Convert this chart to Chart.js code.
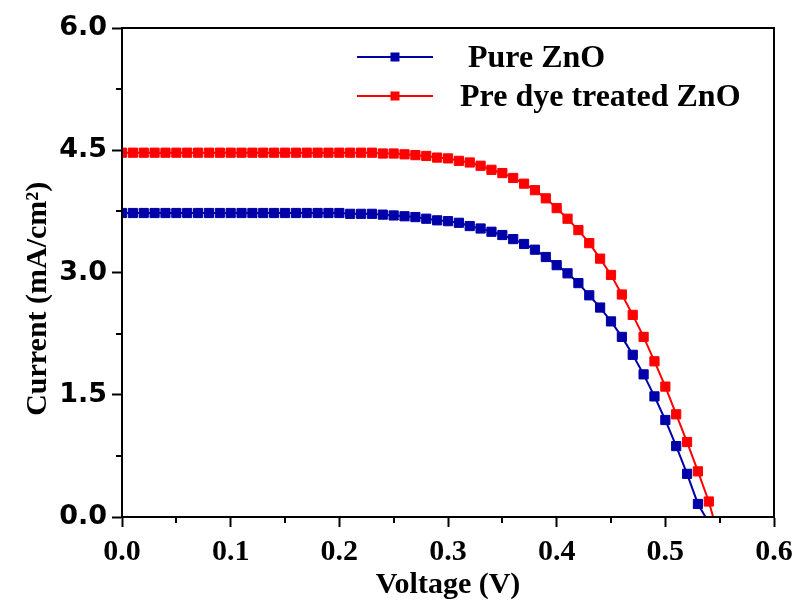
<!DOCTYPE html>
<html><head><meta charset="utf-8">
<script src="https://cdn.jsdelivr.net/npm/chart.js@4/dist/chart.umd.min.js"></script>
<style>html,body{margin:0;padding:0;background:#fff}#wrap{width:796px;height:600px}</style>
</head><body><div id="wrap"><canvas id="c" width="796" height="600"></canvas></div>
<script>
const seriesLabels = [" Pure ZnO", "Pre dye treated ZnO"];
const seriesColors = ["#0000A8", "#FF0000"];
const pureVoltage = [0.00,0.01,0.02,0.03,0.04,0.05,0.06,0.07,0.08,0.09,0.10,0.11,0.12,0.13,0.14,0.15,0.16,0.17,0.18,0.19,0.20,0.21,0.22,0.23,0.24,0.25,0.26,0.27,0.28,0.29,0.30,0.31,0.32,0.33,0.34,0.35,0.36,0.37,0.38,0.39,0.40,0.41,0.42,0.43,0.44,0.45,0.46,0.47,0.48,0.49,0.50,0.51,0.52,0.53,0.537];
const pureCurrent = [3.73,3.73,3.73,3.73,3.73,3.73,3.73,3.73,3.73,3.73,3.73,3.73,3.73,3.73,3.73,3.73,3.73,3.73,3.73,3.73,3.73,3.72,3.72,3.72,3.71,3.70,3.69,3.68,3.66,3.64,3.63,3.61,3.57,3.54,3.50,3.46,3.41,3.35,3.28,3.19,3.09,2.99,2.87,2.72,2.57,2.40,2.21,1.99,1.75,1.48,1.19,0.87,0.53,0.16,0];
const dyeVoltage = [0.00,0.01,0.02,0.03,0.04,0.05,0.06,0.07,0.08,0.09,0.10,0.11,0.12,0.13,0.14,0.15,0.16,0.17,0.18,0.19,0.20,0.21,0.22,0.23,0.24,0.25,0.26,0.27,0.28,0.29,0.30,0.31,0.32,0.33,0.34,0.35,0.36,0.37,0.38,0.39,0.40,0.41,0.42,0.43,0.44,0.45,0.46,0.47,0.48,0.49,0.50,0.51,0.52,0.53,0.54,0.544];
const dyeCurrent = [4.47,4.47,4.47,4.47,4.47,4.47,4.47,4.47,4.47,4.47,4.47,4.47,4.47,4.47,4.47,4.47,4.47,4.47,4.47,4.47,4.47,4.47,4.47,4.47,4.46,4.46,4.45,4.44,4.43,4.41,4.40,4.37,4.35,4.31,4.26,4.22,4.16,4.09,4.01,3.91,3.79,3.66,3.52,3.36,3.17,2.97,2.73,2.48,2.21,1.91,1.60,1.26,0.92,0.56,0.19,0];
const xAxisTitle = "Voltage (V)";
const yAxisTitle = "Current (mA/cm\u00B2)";

function toPoints(xs, ys) { return xs.map((v, i) => ({x: v, y: ys[i]})); }
function isMajor(v, step) { const r = v / step; return Math.abs(r - Math.round(r)) < 1e-6; }

const overlayPlugin = {
  id: 'overlay',
  afterDatasetsDraw(chart) {
    const {ctx, chartArea: a, scales: {x, y}} = chart;
    ctx.save();
    ctx.strokeStyle = '#000';
    ctx.lineWidth = 2;
    ctx.strokeRect(a.left, a.top, a.right - a.left, a.bottom - a.top);
    ctx.beginPath();
    y.ticks.forEach(t => {
      if (!isMajor(t.value, 1.5)) { const p = Math.round(y.getPixelForValue(t.value)); ctx.moveTo(a.left - 6, p); ctx.lineTo(a.left, p); }
    });
    x.ticks.forEach(t => {
      if (!isMajor(t.value, 0.1)) { const p = Math.round(x.getPixelForValue(t.value)); ctx.moveTo(p, a.bottom); ctx.lineTo(p, a.bottom + 6); }
    });
    ctx.stroke();
    // legend
    chart.data.datasets.forEach((ds, i) => {
      const ly = a.top + 29 + i * 39;
      const lx = a.left + 235;
      ctx.strokeStyle = ds.borderColor;
      ctx.lineWidth = 2;
      ctx.beginPath(); ctx.moveTo(lx, ly); ctx.lineTo(lx + 76, ly); ctx.stroke();
      ctx.fillStyle = ds.borderColor;
      ctx.fillRect(lx + 38 - 4.5, ly - 4.5, 9, 9);
      ctx.fillStyle = '#000';
      ctx.font = 'bold 32px "Liberation Serif"';
      ctx.textBaseline = 'alphabetic';
      ctx.textAlign = 'left';
      ctx.fillText(ds.label, lx + 103, ly + 10);
    });
    ctx.restore();
  }
};

new Chart(document.getElementById('c'), {
  type: 'line',
  data: {
    datasets: [
      {label: seriesLabels[0], data: toPoints(pureVoltage, pureCurrent), borderColor: seriesColors[0], backgroundColor: seriesColors[0]},
      {label: seriesLabels[1], data: toPoints(dyeVoltage, dyeCurrent), borderColor: seriesColors[1], backgroundColor: seriesColors[1]}
    ]
  },
  options: {
    responsive: false,
    devicePixelRatio: 1,
    animation: false,
    layout: {padding: {top: 28, right: 22, left: 0, bottom: 0}},
    elements: {
      line: {borderWidth: 2, tension: 0},
      point: {
        pointStyle: 'rect',
        radius: (c) => (c.dataIndex === c.dataset.data.length - 1 ? 0 : 6.5),
        borderWidth: 1,
        hoverRadius: 6.5
      }
    },
    plugins: {legend: {display: false}, tooltip: {enabled: false}},
    scales: {
      x: {
        type: 'linear', min: 0, max: 0.6,
        afterFit: (s) => { s.height = 83; s.paddingLeft = 0; s.paddingRight = 0; },
        ticks: {stepSize: 0.05, color: '#000', padding: 7, maxRotation: 0, autoSkip: false,
          font: {family: 'Liberation Serif', weight: 'bold', size: 30},
          callback: (v) => (isMajor(v, 0.1) ? v.toFixed(1) : '')},
        grid: {drawOnChartArea: false, tickLength: 10, tickWidth: 2,
          tickColor: (c) => (c.tick && isMajor(c.tick.value, 0.1) ? '#000' : 'rgba(0,0,0,0)')},
        border: {color: '#000', width: 2},
        title: {display: true, text: xAxisTitle, color: '#000', padding: {top: 0, bottom: -2},
          font: {family: 'Liberation Serif', weight: 'bold', size: 30, lineHeight: 1.1}}
      },
      y: {
        type: 'linear', min: 0, max: 6,
        afterFit: (s) => { s.width = 122; s.paddingTop = 0; s.paddingBottom = 0; },
        ticks: {stepSize: 0.75, color: '#000', padding: 5, autoSkip: false,
          font: {family: 'DejaVu Sans', weight: 'bold', size: 27},
          callback: (v) => (isMajor(v, 1.5) ? v.toFixed(1) : '')},
        grid: {drawOnChartArea: false, tickLength: 10, tickWidth: 2,
          tickColor: (c) => (c.tick && isMajor(c.tick.value, 1.5) ? '#000' : 'rgba(0,0,0,0)')},
        border: {color: '#000', width: 2},
        title: {display: true, text: yAxisTitle + '       ', color: '#000', padding: {top: 20, bottom: 0},
          font: {family: 'Liberation Serif', weight: 'bold', size: 30, lineHeight: 1.2}}
      }
    }
  },
  plugins: [overlayPlugin]
});
</script>
</body></html>
